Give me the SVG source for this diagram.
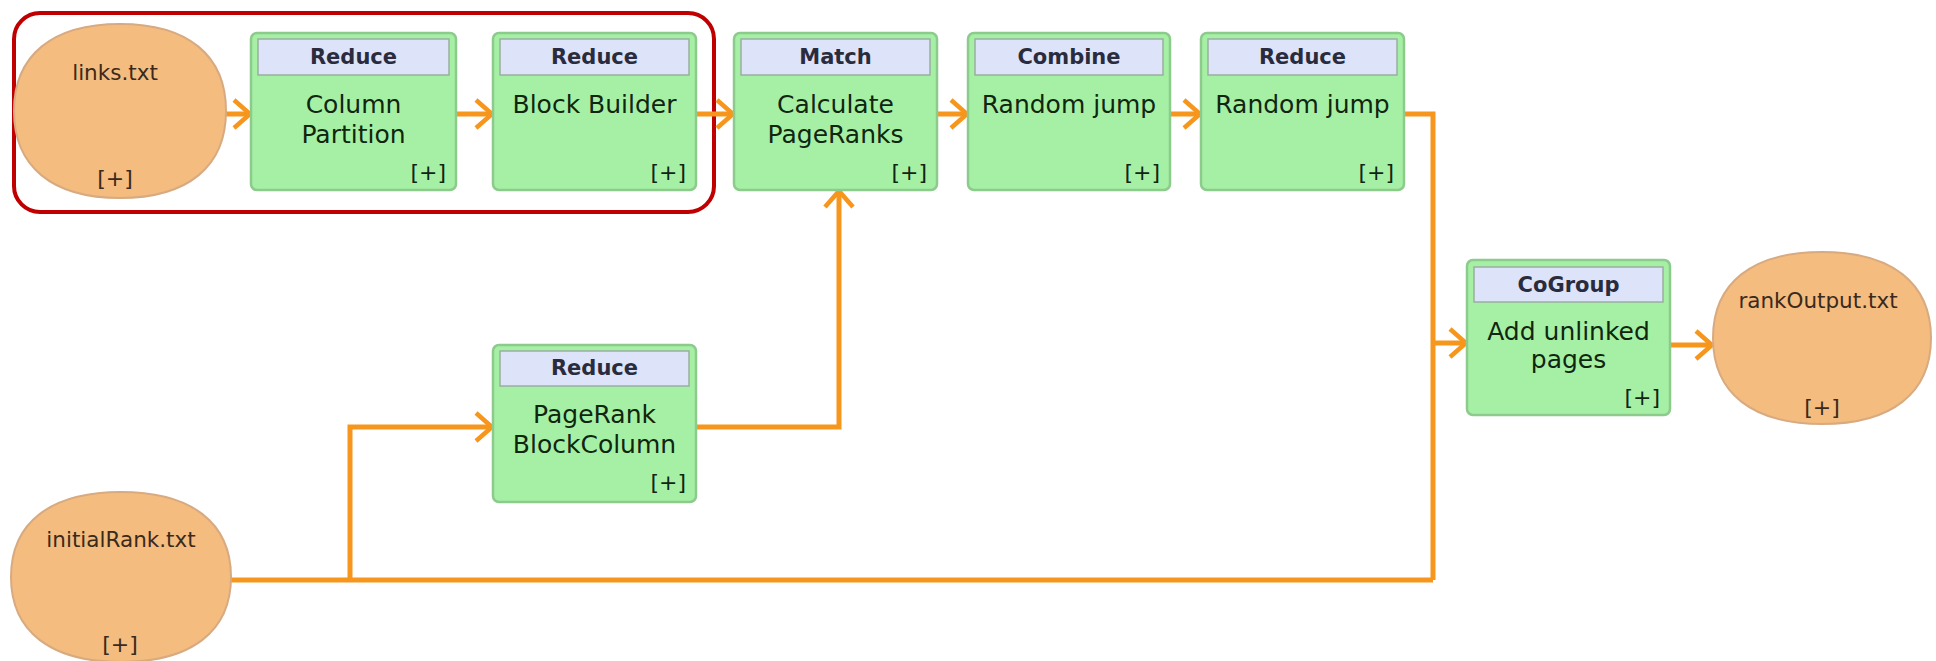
<svg xmlns="http://www.w3.org/2000/svg" width="1936" height="661" viewBox="0 0 1936 661">
  <style>
    .src { fill: #F5BC80; stroke: #D8AA80; stroke-width: 2; }
    .op { fill: #A6F0A6; stroke: #8CCB8C; stroke-width: 2.5; }
    .hdr { fill: #DDE3F8; stroke: #9AAFA0; stroke-width: 1.5; }
    .htxt { font-family: "DejaVu Sans", sans-serif; font-weight: bold; font-size: 21px; fill: #2A2C3E; text-anchor: middle; }
    .btxt { font-family: "DejaVu Sans", sans-serif; font-size: 25px; fill: #10260F; text-anchor: middle; }
    .plus { font-family: "DejaVu Sans", sans-serif; font-size: 22px; fill: #10260F; text-anchor: end; }
    .stxt { font-family: "DejaVu Sans", sans-serif; font-size: 21.5px; fill: #3A2A1C; text-anchor: middle; }
    .splus { font-family: "DejaVu Sans", sans-serif; font-size: 22px; fill: #3A2A1C; text-anchor: middle; }
    .edge { fill: none; stroke: #F7961C; stroke-width: 5; stroke-linejoin: miter; }
    .arr { marker-end: url(#chev); }
  </style>
  <defs>
    <marker id="chev" markerUnits="userSpaceOnUse" markerWidth="40" markerHeight="40" viewBox="-20 -20 40 40" refX="0" refY="0" orient="auto">
      <path d="M-16,-14 L0,0 L-16,14" fill="none" stroke="#F7961C" stroke-width="4.5"/>
    </marker>
  </defs>

  <rect width="1936" height="661" fill="#FFFFFF"/>

  <!-- highlight frame around the preprocessing stage -->
  <rect x="14" y="13" width="700" height="199" rx="26" fill="none" stroke="#C00000" stroke-width="4"/>

  <!-- connectors -->
  <g id="connectors">
    <path class="edge arr" d="M226,114 H250"/>
    <path class="edge arr" d="M456,114 H492"/>
    <path class="edge arr" d="M696,114 H733"/>
    <path class="edge arr" d="M937,114 H967"/>
    <path class="edge arr" d="M1170,114 H1200"/>
    <path class="edge" d="M1404,114 H1433 V580"/>
    <path class="edge" d="M231,580 H1433"/>
    <path class="edge arr" d="M350,580 V427 H492"/>
    <path class="edge arr" d="M696,427 H839 V191"/>
    <path class="edge arr" d="M1433,343 H1466"/>
    <path class="edge arr" d="M1670,345 H1712"/>
  </g>

  <!-- data sources / sinks (slightly squarish ovals) -->
  <g id="links">
    <path class="src" d="M14,111 C14,55.3 52.2,24 120,24 C187.8,24 226,55.3 226,111 C226,166.7 187.8,198 120,198 C52.2,198 14,166.7 14,111 Z"/>
    <text class="stxt" x="115" y="80">links.txt</text>
    <text class="splus" x="115" y="186">[+]</text>
  </g>
  <g id="initialRank">
    <path class="src" d="M11,577 C11,522.6 50.6,492 121,492 C191.4,492 231,522.6 231,577 C231,631.4 191.4,662 121,662 C50.6,662 11,631.4 11,577 Z"/>
    <text class="stxt" x="121" y="547">initialRank.txt</text>
    <text class="splus" x="120" y="652">[+]</text>
  </g>
  <g id="rankOutput">
    <path class="src" d="M1713,338 C1713,283 1752.2,252 1822,252 C1891.8,252 1931,283 1931,338 C1931,393 1891.8,424 1822,424 C1752.2,424 1713,393 1713,338 Z"/>
    <text class="stxt" x="1818" y="308">rankOutput.txt</text>
    <text class="splus" x="1822" y="415">[+]</text>
  </g>

  <!-- operators -->
  <g id="columnPartition">
    <rect class="op" x="251" y="33" width="205" height="157" rx="6"/>
    <rect class="hdr" x="258" y="39" width="191" height="36"/>
    <text class="htxt" x="353.5" y="64">Reduce</text>
    <text class="btxt" x="353.5" y="113">Column</text>
    <text class="btxt" x="353.5" y="143">Partition</text>
    <text class="plus" x="446" y="180">[+]</text>
  </g>
  <g id="blockBuilder">
    <rect class="op" x="493" y="33" width="203" height="157" rx="6"/>
    <rect class="hdr" x="500" y="39" width="189" height="36"/>
    <text class="htxt" x="594.5" y="64">Reduce</text>
    <text class="btxt" x="594.5" y="113">Block Builder</text>
    <text class="plus" x="686" y="180">[+]</text>
  </g>
  <g id="calculatePageRanks">
    <rect class="op" x="734" y="33" width="203" height="157" rx="6"/>
    <rect class="hdr" x="741" y="39" width="189" height="36"/>
    <text class="htxt" x="835.5" y="64">Match</text>
    <text class="btxt" x="835.5" y="113">Calculate</text>
    <text class="btxt" x="835.5" y="143">PageRanks</text>
    <text class="plus" x="927" y="180">[+]</text>
  </g>
  <g id="randomJumpCombine">
    <rect class="op" x="968" y="33" width="202" height="157" rx="6"/>
    <rect class="hdr" x="975" y="39" width="188" height="36"/>
    <text class="htxt" x="1069" y="64">Combine</text>
    <text class="btxt" x="1069" y="113">Random jump</text>
    <text class="plus" x="1160" y="180">[+]</text>
  </g>
  <g id="randomJumpReduce">
    <rect class="op" x="1201" y="33" width="203" height="157" rx="6"/>
    <rect class="hdr" x="1208" y="39" width="189" height="36"/>
    <text class="htxt" x="1302.5" y="64">Reduce</text>
    <text class="btxt" x="1302.5" y="113">Random jump</text>
    <text class="plus" x="1394" y="180">[+]</text>
  </g>
  <g id="pageRankBlockColumn">
    <rect class="op" x="493" y="345" width="203" height="157" rx="6"/>
    <rect class="hdr" x="500" y="351" width="189" height="35"/>
    <text class="htxt" x="594.5" y="375">Reduce</text>
    <text class="btxt" x="594.5" y="423">PageRank</text>
    <text class="btxt" x="594.5" y="453">BlockColumn</text>
    <text class="plus" x="686" y="490">[+]</text>
  </g>
  <g id="addUnlinkedPages">
    <rect class="op" x="1467" y="260" width="203" height="155" rx="6"/>
    <rect class="hdr" x="1474" y="267" width="189" height="35"/>
    <text class="htxt" x="1568.5" y="292">CoGroup</text>
    <text class="btxt" x="1568.5" y="340">Add unlinked</text>
    <text class="btxt" x="1568.5" y="368">pages</text>
    <text class="plus" x="1660" y="405">[+]</text>
  </g>
</svg>
